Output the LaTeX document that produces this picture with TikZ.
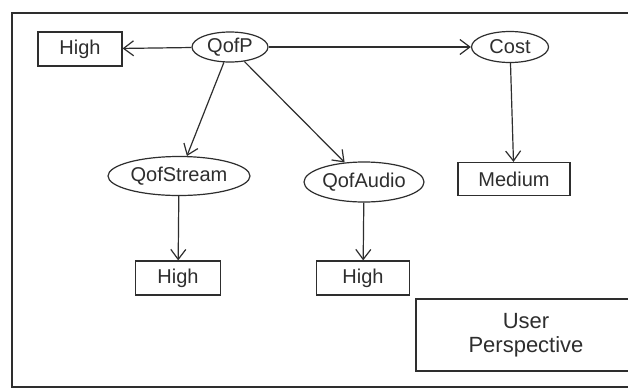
\documentclass[tikz,border=0pt]{standalone}
\usepackage{fontspec}
\setmainfont{Liberation Sans}
\usetikzlibrary{arrows.meta,shapes.geometric}
\definecolor{ink}{HTML}{2E2E2E}
\begin{document}
\begin{tikzpicture}[x=1pt,y=-1pt,
  every node/.style={text=ink, font=\fontsize{20}{23}\selectfont, inner sep=0pt},
  valbox/.style={draw=ink, line width=1.2pt, rectangle, minimum height=34pt},
  attr/.style={draw=ink, line width=1.2pt, ellipse},
  link/.style={draw=ink, line width=1.2pt, -{Straight Barb[length=10pt,width=15pt,line width=1.2pt]}}]
\useasboundingbox (0,0) rectangle (628,389);
\fill[white] (0,0) rectangle (628,389);
\draw[ink, line width=1.3pt] (640,13) -- (12,13) -- (12,387) -- (640,387);
% nodes
\node[attr, minimum width=76pt, minimum height=30pt] (qofp) at (230,47) {QofP};
\node[attr, minimum width=77pt, minimum height=31pt] (cost) at (510,47) {Cost};
\node[valbox, minimum width=84pt] (high1) at (80,49) {High};
\node[attr, minimum width=142pt, minimum height=39pt] (qstream) at (179,176) {QofStream};
\node[attr, minimum width=120pt, minimum height=40pt] (qaudio) at (364,182) {QofAudio};
\node[valbox, minimum width=112pt, minimum height=33pt] (medium) at (514,179) {Medium};
\node[valbox, minimum width=85pt] (high2) at (178,278) {High};
\node[valbox, minimum width=93pt] (high3) at (363,278) {High};
\node[valbox, minimum width=220pt, minimum height=72pt, align=center,
  font=\fontsize{22}{24}\selectfont] (user) at (526,335) {User\\Perspective};
% connectors
\draw[link] (qofp) -- (high1);
\draw[link] (qofp) -- (cost);
\draw[link] (qofp) -- (qstream);
\draw[link] (qofp) -- (qaudio);
\draw[link] (cost) -- (medium);
\draw[link] (qstream) -- (high2);
\draw[link] (qaudio) -- (high3);
\end{tikzpicture}
\end{document}
